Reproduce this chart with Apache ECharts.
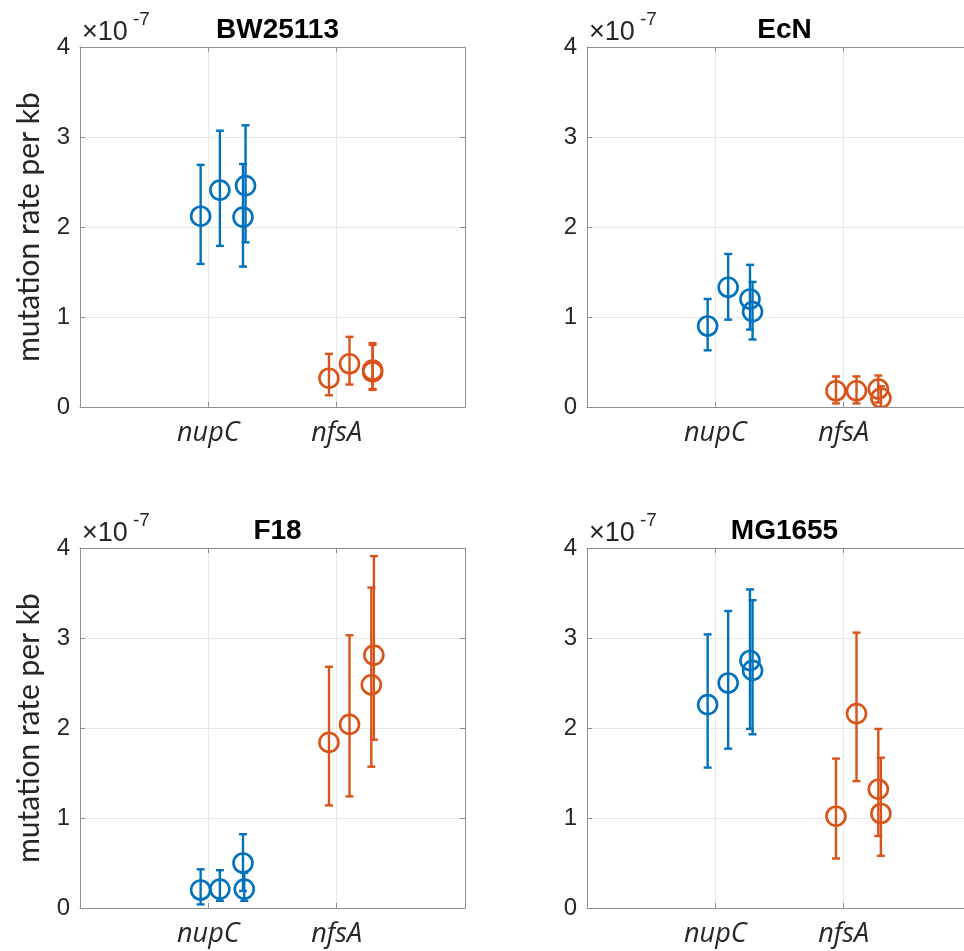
<!DOCTYPE html>
<html>
<head>
<meta charset="utf-8">
<script src="https://cdn.jsdelivr.net/npm/echarts@6/dist/echarts.min.js"></script>
<style>html,body{margin:0;padding:0;background:#fff;overflow:hidden}#c{width:964px;height:951px}</style>
</head>
<body>
<div id="c"></div>
<script>
// Categories & labels
const categories = ['nupC', 'nfsA'];
const strains = ['BW25113', 'EcN', 'F18', 'MG1655'];
const yTicks = [0, 1, 2, 3, 4];
const yLabel = 'mutation rate per kb';
const multiplier = '\u00d710';
const exponent = '-7';

// Values in units of 1e-7 (mutation rate per kb)
// BW25113
const bwNupCMean = [2.12, 2.41, 2.46, 2.11];
const bwNupCLow  = [1.59, 1.79, 1.83, 1.56];
const bwNupCHigh = [2.69, 3.07, 3.13, 2.70];
const bwNupCJit  = [-0.06, 0.09, 0.29, 0.27];
const bwNfsAMean = [0.32, 0.48, 0.41, 0.39];
const bwNfsALow  = [0.13, 0.25, 0.20, 0.19];
const bwNfsAHigh = [0.59, 0.78, 0.71, 0.69];
const bwNfsAJit  = [-0.06, 0.10, 0.28, 0.28];
// EcN
const ecNupCMean = [0.90, 1.33, 1.20, 1.06];
const ecNupCLow  = [0.63, 0.97, 0.86, 0.75];
const ecNupCHigh = [1.20, 1.70, 1.58, 1.39];
const ecNupCJit  = [-0.06, 0.10, 0.27, 0.29];
const ecNfsAMean = [0.18, 0.18, 0.20, 0.10];
const ecNfsALow  = [0.04, 0.04, 0.05, 0.00];
const ecNfsAHigh = [0.34, 0.34, 0.35, 0.23];
const ecNfsAJit  = [-0.06, 0.10, 0.27, 0.29];
// F18
const f18NupCMean = [0.20, 0.21, 0.50, 0.21];
const f18NupCLow  = [0.04, 0.08, 0.19, 0.08];
const f18NupCHigh = [0.43, 0.42, 0.82, 0.39];
const f18NupCJit  = [-0.06, 0.09, 0.27, 0.28];
const f18NfsAMean = [1.84, 2.04, 2.81, 2.48];
const f18NfsALow  = [1.14, 1.24, 1.87, 1.57];
const f18NfsAHigh = [2.68, 3.03, 3.91, 3.56];
const f18NfsAJit  = [-0.06, 0.10, 0.29, 0.27];
// MG1655
const mgNupCMean = [2.26, 2.50, 2.75, 2.64];
const mgNupCLow  = [1.56, 1.77, 1.99, 1.93];
const mgNupCHigh = [3.04, 3.30, 3.54, 3.42];
const mgNupCJit  = [-0.06, 0.10, 0.27, 0.29];
const mgNfsAMean = [1.02, 2.16, 1.32, 1.05];
const mgNfsALow  = [0.55, 1.41, 0.80, 0.58];
const mgNfsAHigh = [1.66, 3.06, 1.99, 1.67];
const mgNfsAJit  = [-0.06, 0.10, 0.27, 0.29];

const panels = [
  { nupC: [bwNupCMean, bwNupCLow, bwNupCHigh, bwNupCJit], nfsA: [bwNfsAMean, bwNfsALow, bwNfsAHigh, bwNfsAJit] },
  { nupC: [ecNupCMean, ecNupCLow, ecNupCHigh, ecNupCJit], nfsA: [ecNfsAMean, ecNfsALow, ecNfsAHigh, ecNfsAJit] },
  { nupC: [f18NupCMean, f18NupCLow, f18NupCHigh, f18NupCJit], nfsA: [f18NfsAMean, f18NfsALow, f18NfsAHigh, f18NfsAJit] },
  { nupC: [mgNupCMean, mgNupCLow, mgNupCHigh, mgNupCJit], nfsA: [mgNfsAMean, mgNfsALow, mgNfsAHigh, mgNfsAJit] }
];

const colors = ['#0072BD', '#D95319'];
const gridPos = [
  { left: 80, top: 47 }, { left: 587, top: 47 },
  { left: 80, top: 548 }, { left: 587, top: 548 }
];
const W = 385, H = 360;
const axisGray = '#8f8f8f';
const textGray = '#262626';

function makeData(arr, catIndex) {
  const [m, lo, hi, jit] = arr;
  return m.map((v, i) => [catIndex + 1 + jit[i], v, lo[i], hi[i]]);
}

function renderItem(color) {
  return function (params, api) {
    const x = api.value(0), y = api.value(1), lo = api.value(2), hi = api.value(3);
    const c = api.coord([x, y]);
    const cl = api.coord([x, lo]);
    const ch = api.coord([x, hi]);
    const cap = 4;
    const ls = { stroke: color, lineWidth: 2.4 };
    return {
      type: 'group',
      children: [
        { type: 'line', shape: { x1: c[0], y1: cl[1], x2: c[0], y2: ch[1] }, style: ls },
        { type: 'line', shape: { x1: c[0] - cap, y1: cl[1], x2: c[0] + cap, y2: cl[1] }, style: ls },
        { type: 'line', shape: { x1: c[0] - cap, y1: ch[1], x2: c[0] + cap, y2: ch[1] }, style: ls },
        { type: 'circle', shape: { cx: c[0], cy: c[1], r: 9.5 }, style: { fill: 'none', stroke: color, lineWidth: 2.6 } }
      ]
    };
  };
}

const grids = [], xAxes = [], yAxes = [], series = [], titles = [], graphics = [];
panels.forEach((p, k) => {
  const g = gridPos[k];
  grids.push({ left: g.left, top: g.top, width: W, height: H, show: false, outerBoundsMode: 'none', containLabel: false });
  xAxes.push({
    type: 'value', gridIndex: k, min: 0, max: 3, interval: 1, position: 'bottom',
    axisLine: { show: true, onZero: false, lineStyle: { color: axisGray, width: 1 } },
    axisTick: { show: true, inside: true, length: 5, lineStyle: { color: axisGray } },
    splitLine: { show: true, lineStyle: { color: '#e8e8e8', width: 1 } },
    axisLabel: {
      formatter: v => (v >= 1 && v <= categories.length && Number.isInteger(v)) ? categories[v - 1] : '',
      fontFamily: 'Open Sans', fontStyle: 'italic', fontSize: 27, color: textGray, margin: 13,
      showMinLabel: true, showMaxLabel: true
    }
  });
  yAxes.push({
    type: 'value', gridIndex: k, min: yTicks[0], max: yTicks[yTicks.length - 1], interval: 1, position: 'left',
    axisLine: { show: true, onZero: false, lineStyle: { color: axisGray, width: 1 } },
    axisTick: { show: true, inside: true, length: 5, lineStyle: { color: axisGray } },
    splitLine: { show: true, lineStyle: { color: '#e8e8e8', width: 1 } },
    axisLabel: { fontFamily: 'Liberation Sans', fontSize: 24, color: textGray, margin: 10 },
    name: (k % 2 === 0) ? yLabel : '',
    nameLocation: 'middle', nameGap: 36,
    nameTextStyle: { fontFamily: 'Lato', fontSize: 30, color: textGray }
  });
  ['nupC', 'nfsA'].forEach((gene, ci) => {
    series.push({
      type: 'custom', xAxisIndex: k, yAxisIndex: k, clip: true,
      renderItem: renderItem(colors[ci]),
      data: makeData(p[gene], ci),
      encode: { x: 0, y: [1, 2, 3] }
    });
  });
  titles.push({
    text: strains[k], left: g.left + W / 2, top: g.top - 36, textAlign: 'center',
    textStyle: { fontFamily: 'Liberation Sans', fontWeight: 'bold', fontSize: 28, color: '#000' }
  });
  graphics.push({
    type: 'text', left: g.left + 2, top: g.top - 28,
    style: { text: multiplier, fontFamily: 'Liberation Sans', fontSize: 27, fill: textGray }
  });
  graphics.push({
    type: 'text', left: g.left + 53, top: g.top - 37,
    style: { text: exponent, fontFamily: 'Liberation Sans', fontSize: 19, fill: textGray }
  });
});
// box edges (top and right) as secondary axes
panels.forEach((p, k) => {
  xAxes.push({
    type: 'value', gridIndex: k, min: 0, max: 3, interval: 1, position: 'top',
    axisLine: { show: true, onZero: false, lineStyle: { color: axisGray, width: 1 } },
    axisTick: { show: true, inside: true, length: 5, lineStyle: { color: axisGray } },
    axisLabel: { show: false }, splitLine: { show: false }
  });
  if (k % 2 === 0) {
    yAxes.push({
      type: 'value', gridIndex: k, min: yTicks[0], max: yTicks[yTicks.length - 1], interval: 1, position: 'right',
      axisLine: { show: true, onZero: false, lineStyle: { color: axisGray, width: 1 } },
      axisTick: { show: true, inside: true, length: 5, lineStyle: { color: axisGray } },
      axisLabel: { show: false }, splitLine: { show: false }
    });
  }
});

const chart = echarts.init(document.getElementById('c'), null, { renderer: 'canvas', width: 964, height: 951 });
chart.setOption({
  backgroundColor: '#fff',
  animation: false,
  title: titles,
  grid: grids,
  xAxis: xAxes,
  yAxis: yAxes,
  series: series,
  graphic: graphics
});
</script>
</body>
</html>
